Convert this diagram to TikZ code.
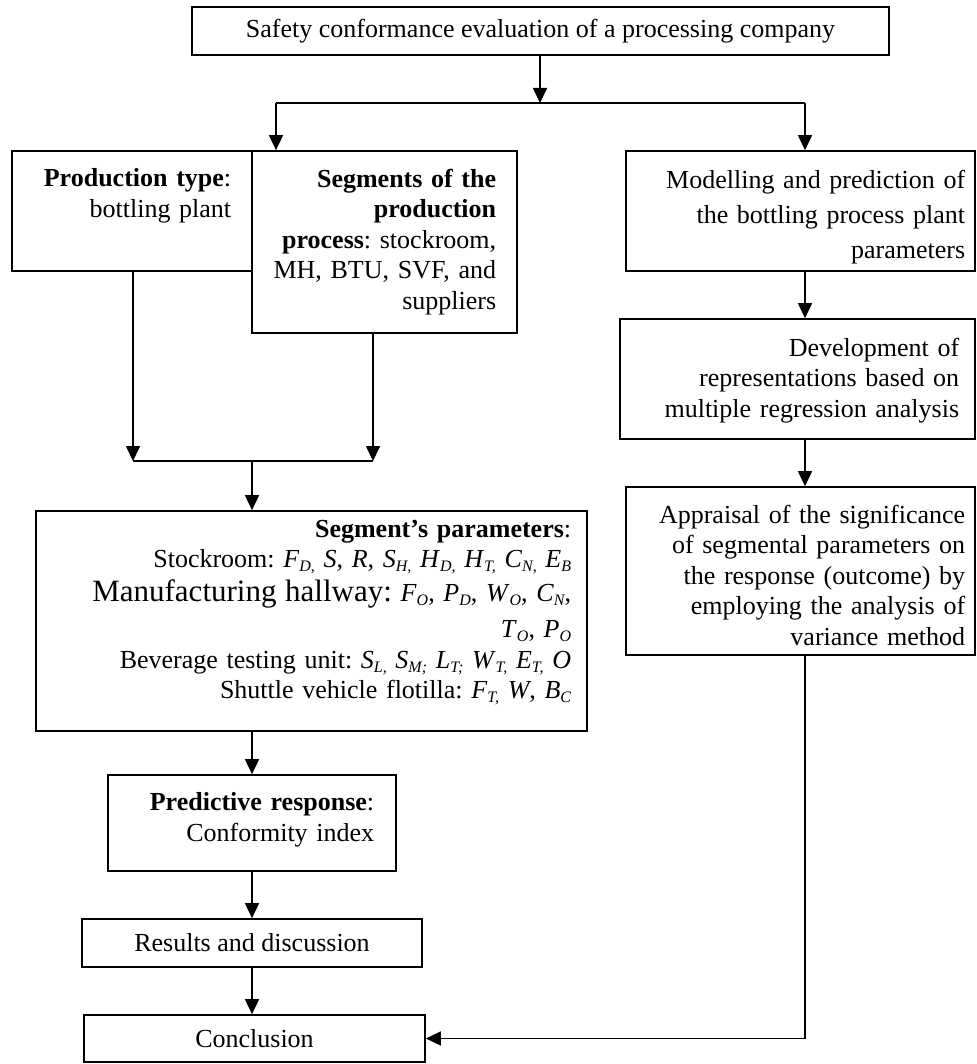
\documentclass[tikz,border=0pt]{standalone}
\usepackage{fontspec}
\setmainfont{Liberation Serif}
\usetikzlibrary{arrows.meta,fit}

\newcommand{\prm}[2]{\textit{#1}\raisebox{-4pt}{\fontsize{16}{16}\selectfont\itshape #2}}

\tikzset{
  box/.style={draw, inner sep=0pt, font=\frenchspacing\fontsize{26}{30}\selectfont},
  txt/.style={anchor=north east, inner sep=0pt, text width=#1, align=right,
    font=\frenchspacing\fontsize{26}{30.5}\selectfont},
  txt/.default=400pt,
}

\begin{document}
\begin{tikzpicture}[x=1pt, y=-1pt, line width=1.7pt, >={Triangle[length=15pt,width=14pt]}]
            \useasboundingbox (0,0) rectangle (976,1064);

            % boxes
            \node[box, minimum width=697pt, minimum height=48pt] (eval) at (540.5,31)
              {Safety conformance evaluation of a processing company};

            \node[box, fit={(12,151) (252,271)}] (ptype) {};
            \node[txt] (ptypetxt) at (232,168) {\textbf{Production type}:\\ bottling plant};

            \node[box, fit={(252,151) (517,333)}] (segs) {};
            \node[txt] (segstxt) at (497,168) {\textbf{Segments of the}\\ \textbf{production}\\
              \textbf{process}: stockroom,\\ MH, BTU, SVF, and\\ suppliers};

            \node[box, fit={(36,511) (587,731)}] (params) {};
            \node[txt=580pt] (paramstxt) at (572,519) {\textbf{Segment’s parameters}:\\
              Stockroom: \prm{F}{D,} \textit{S}, \textit{R}, \prm{S}{H,} \prm{H}{D,} \prm{H}{T,} \prm{C}{N,} \prm{E}{B}\\[3pt]
              {\fontsize{31}{30}\selectfont Manufacturing hallway:} \prm{F}{O}, \prm{P}{D}, \prm{W}{O}, \prm{C}{N},\\[6pt]
              \prm{T}{O}, \prm{P}{O}\hspace*{9pt}\\
              Beverage testing unit: \prm{S}{L,} \prm{S}{M;} \prm{L}{T;} \prm{W}{T,} \prm{E}{T,} \textit{O}\\
              Shuttle vehicle flotilla: \prm{F}{T,} \textit{W}, \prm{B}{C}};

            \node[box, fit={(108,775) (396,871)}] (resp) {};
            \node[txt] (resptxt) at (375,792) {\textbf{Predictive response}:\\ Conformity index};

            \node[box, minimum width=340pt, minimum height=48pt] (results) at (252,943) {Results and discussion};
            \node[box, minimum width=341pt, minimum height=47pt] (concl) at (254.5,1038.5) {Conclusion};

            \node[box, fit={(626,151) (975,271)}] (model) {};
            \node[txt, font=\frenchspacing\fontsize{26}{35}\selectfont] (modeltxt) at (966,169)
              {Modelling and prediction of\\ the bottling process plant\\ parameters};

            \node[box, fit={(620,319) (975,439)}] (devel) {};
            \node[txt] (develtxt) at (960,337)
              {Development of\\ representations based on\\ multiple regression analysis};

            \node[box, fit={(626,487) (975,655)}] (anova) {};
            \node[txt] (anovatxt) at (966,504) {Appraisal of the significance\\ of segmental parameters on\\
              the response (outcome) by\\ employing the analysis of\\ variance method};

            % branch and join points
            \coordinate (split) at (540,103);
            \coordinate (splitL) at (276,103);
            \coordinate (splitR) at (805,103);
            \coordinate (joinL) at (133,461);
            \coordinate (joinR) at (373,461);
            \coordinate (join) at (252,461);

            \draw[->] (eval.south -| split) -- (split);
            \draw (splitL) -- (splitR);
            \draw[->] (splitL) -- (splitL |- segs.north);
            \draw[->] (splitR) -- (splitR |- model.north);

            \draw[->] (ptype.south -| joinL) -- (joinL);
            \draw[->] (segs.south -| joinR) -- (joinR);
            \draw (joinL) -- (joinR);
            \draw[->] (join) -- (join |- params.north);
            \draw[->] (params.south -| join) -- (join |- resp.north);
            \draw[->] (resp.south -| join) -- (join |- results.north);
            \draw[->] (results.south -| join) -- (join |- concl.north);

            \draw[->] (model.south -| splitR) -- (splitR |- devel.north);
            \draw[->] (devel.south -| splitR) -- (splitR |- anova.north);
            \draw[->] (anova.south -| splitR) |- (concl.east);
        \end{tikzpicture}
\end{document}
